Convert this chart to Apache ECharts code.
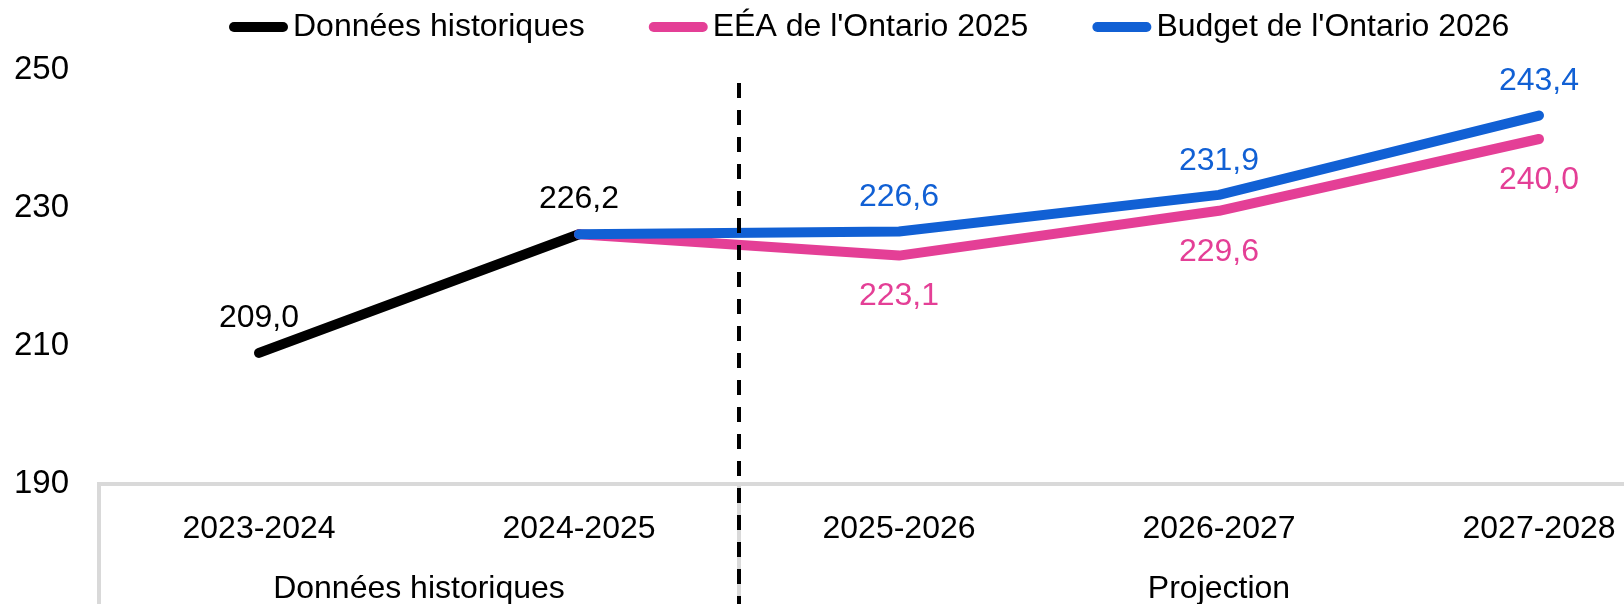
<!DOCTYPE html>
<html>
<head>
<meta charset="utf-8">
<script src="https://cdn.jsdelivr.net/npm/echarts@6/dist/echarts.min.js"></script>
<style>
html,body{margin:0;padding:0;background:#fff;overflow:hidden;width:1624px;height:604px;}
#c{width:1700px;height:604px;}
</style>
</head>
<body>
<div id="c"></div>
<script>
const categories = ['2023-2024','2024-2025','2025-2026','2026-2027','2027-2028'];
const groupLabels = ['Données historiques','Projection'];
const groupSpans = [[0,1],[2,4]];
const seriesNames = ["Données historiques","EÉA de l'Ontario 2025","Budget de l'Ontario 2026"];
const historique = [209.0, 226.2, null, null, null];
const eea2025 = [null, 226.2, 223.1, 229.6, 240.0];
const budget2026 = [null, 226.2, 226.6, 231.9, 243.4];
const yTicks = [190, 210, 230, 250];

const FONT = '"Liberation Sans", Arial, sans-serif';
const FS = 32;
const BLACK = '#000000', PINK = '#E43F96', BLUE = '#1160D4', GRAY = '#D9D9D9';
const fmt = v => v.toFixed(1).replace('.', ',');
const ICON = 'path://M5,0 L54,0 A5,5 0 0 1 54,10 L5,10 A5,5 0 0 1 5,0 Z';

function mkData(arr, hideIdx) {
  return arr.map((v, i) => (v === null ? null : (i === hideIdx ? {value: v, label: {show: false}} : v)));
}

const chart = echarts.init(document.getElementById('c'), null, {renderer: 'canvas'});
const option = {
  animation: false,
  backgroundColor: '#fff',
  textStyle: {fontFamily: FONT},
  legend: {
    left: 224, top: 6,
    icon: ICON,
    itemWidth: 59, itemHeight: 11, itemGap: 64,
    textStyle: {fontFamily: FONT, fontSize: FS, color: '#000'},
    data: seriesNames
  },
  grid: {left: 99, top: 70, width: 1600, height: 414, containLabel: false},
  xAxis: {
    type: 'category', data: categories, boundaryGap: true,
    axisLine: {lineStyle: {color: GRAY, width: 4}},
    axisTick: {show: false},
    axisLabel: {fontFamily: FONT, fontSize: FS, color: '#000', margin: 29},
    splitLine: {show: false}
  },
  yAxis: {
    type: 'value', min: yTicks[0], max: yTicks[yTicks.length-1], interval: 20,
    axisLine: {show: false}, axisTick: {show: false}, splitLine: {show: false},
    axisLabel: {fontFamily: FONT, fontSize: 33, color: '#000', margin: 30}
  },
  series: [
    {
      name: seriesNames[0], type: 'line', data: mkData(historique, -1),
      symbol: 'circle', symbolSize: 0.1, showSymbol: true,
      itemStyle: {color: BLACK},
      lineStyle: {color: BLACK, width: 10, cap: 'round', join: 'round'},
      label: {show: true, position: 'top', distance: 19, fontFamily: FONT, fontSize: FS, color: BLACK, formatter: p => fmt(p.value)},
      z: 2
    },
    {
      name: seriesNames[1], type: 'line', data: mkData(eea2025, 1),
      symbol: 'circle', symbolSize: 0.1, showSymbol: true,
      itemStyle: {color: PINK},
      lineStyle: {color: PINK, width: 10, cap: 'round', join: 'round'},
      label: {show: true, position: 'bottom', distance: 25, fontFamily: FONT, fontSize: FS, color: PINK, formatter: p => fmt(p.value)},
      z: 3
    },
    {
      name: seriesNames[2], type: 'line', data: mkData(budget2026, 1),
      symbol: 'circle', symbolSize: 0.1, showSymbol: true,
      itemStyle: {color: BLUE},
      lineStyle: {color: BLUE, width: 10, cap: 'round', join: 'round'},
      label: {show: true, position: 'top', distance: 18, fontFamily: FONT, fontSize: FS, color: BLUE, formatter: p => fmt(p.value)},
      z: 4
    }
  ]
};
chart.setOption(option);

// decorations computed from the axes
const xs = categories.map(c => chart.convertToPixel({xAxisIndex: 0}, c));
const band = xs[1] - xs[0];
const yAxisPix = chart.convertToPixel({yAxisIndex: 0}, yTicks[0]);
const H = 604;
const bounds = [xs[0] - band/2];
for (let i = 0; i < xs.length; i++) bounds.push(xs[i] + band/2);
const sepX = bounds[groupSpans[0][1] + 1];
const gridTop = 70;
const graphics = [
  {type: 'line', shape: {x1: bounds[0], y1: yAxisPix - 2, x2: bounds[0], y2: H}, style: {stroke: GRAY, lineWidth: 4}, z: 1},
  {type: 'line', shape: {x1: sepX, y1: yAxisPix, x2: sepX, y2: H}, style: {stroke: GRAY, lineWidth: 4}, z: 1},
  {type: 'line', shape: {x1: sepX, y1: gridTop + 13, x2: sepX, y2: H}, style: {stroke: '#000', lineWidth: 4, lineDash: [15, 12]}, z: 10}
];
groupSpans.forEach((s, i) => {
  const cx = (bounds[s[0]] + bounds[s[1] + 1]) / 2;
  graphics.push({type: 'text', x: cx, y: 589, style: {text: groupLabels[i], font: FS + 'px ' + FONT, fill: '#000', align: 'center', verticalAlign: 'middle'}, z: 10});
});
chart.setOption({graphic: graphics});
</script>
</body>
</html>
